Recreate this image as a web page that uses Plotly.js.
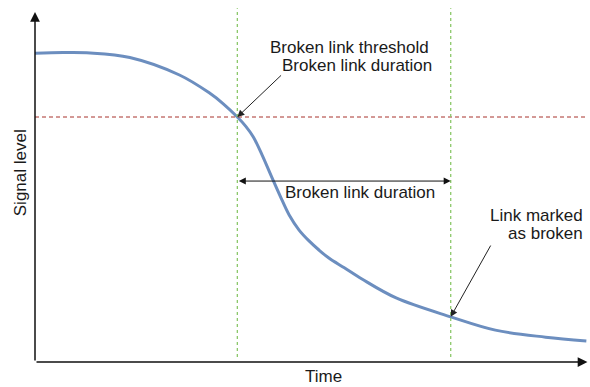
<!DOCTYPE html>
<html>
<head>
<meta charset="utf-8">
<script src="https://cdn.plot.ly/plotly-3.0.1.min.js"></script>
<style>
  html, body { margin: 0; padding: 0; background: #FFFFFF; }
  #chart { width: 590px; height: 387px; }
</style>
</head>
<body>
<div id="chart"></div>
<script>
// Signal level over time, with the broken link threshold and duration

const timePoints = [0, 5.1, 10, 17.2, 26.2, 31.6, 34.2, 36.7, 38.2, 39.6, 41.2, 43.0, 44.7, 46.1, 47.9, 49.7, 51.5, 53.3, 56.1, 59.3, 65.5, 75.4, 83.5, 92.6, 100];
const signalLevels = [88.2, 88.4, 88.3, 87.0, 82.0, 76.9, 73.7, 70.0, 67.4, 64.3, 59.1, 52.6, 46.6, 42.0, 37.7, 34.6, 32.0, 29.7, 26.9, 23.7, 18.3, 12.9, 9.1, 7.1, 6.0];

const threshold = 70;        // broken link threshold (signal level)
const breakStart = 36.7;     // time the signal crosses the threshold
const markedBroken = 75.4;   // time the link is marked as broken
const durationLevel = 51.7;  // height of the duration arrow

const axisEnd = { x: 100.2, y: 100 };

const fontFamily = '"Liberation Sans", Arial, sans-serif';
const textColor = '#1A1A1A';

const signalTrace = {
  x: timePoints,
  y: signalLevels,
  type: 'scatter',
  mode: 'lines',
  line: { color: '#6C8EBF', width: 3, shape: 'spline', smoothing: 1 },
  hoverinfo: 'skip',
  showlegend: false
};

// Text label helper
function label(text, x, y, xanchor, extra) {
  return Object.assign({
    x: x, y: y, xref: 'x', yref: 'y',
    text: text,
    showarrow: false,
    xanchor: xanchor,
    yanchor: 'middle',
    font: { family: fontFamily, size: 17, color: textColor }
  }, extra || {});
}

// Arrow helper (tail -> head in data coords)
function arrow(x0, y0, x1, y1, opts) {
  return Object.assign({
    x: x1, y: y1, ax: x0, ay: y0,
    xref: 'x', yref: 'y', axref: 'x', ayref: 'y',
    text: '',
    showarrow: true,
    arrowhead: 2,
    arrowsize: 1.4,
    arrowwidth: 1,
    arrowcolor: '#222222',
    standoff: 0,
    startstandoff: 0
  }, opts || {});
}

const layout = {
  width: 590,
  height: 387,
  margin: { l: 35, r: 2, t: 5, b: 25 },
  paper_bgcolor: '#FFFFFF',
  plot_bgcolor: '#FFFFFF',
  xaxis: {
    range: [0, 100.3],
    showgrid: false, zeroline: false, showticklabels: false, ticks: '', showline: false
  },
  yaxis: {
    range: [0, 102],
    showgrid: false, zeroline: false, showticklabels: false, ticks: '', showline: false
  },
  shapes: [
    // threshold line
    {
      type: 'line', xref: 'x', yref: 'y',
      x0: 0, x1: 100, y0: threshold, y1: threshold,
      line: { color: '#A8322D', width: 1, dash: '4px,3px' }
    },
    // start of broken period
    {
      type: 'line', xref: 'x', yref: 'y',
      x0: breakStart, x1: breakStart, y0: 1.4, y1: 101.1,
      line: { color: '#8CC86A', width: 1.3, dash: '3px,3px' }
    },
    // link marked as broken
    {
      type: 'line', xref: 'x', yref: 'y',
      x0: markedBroken, x1: markedBroken, y0: 1.4, y1: 101.1,
      line: { color: '#8CC86A', width: 1.3, dash: '3px,3px' }
    }
  ],
  annotations: [
    // axes with arrow tips
    arrow(0, 0, 0, axisEnd.y, { arrowwidth: 1.5, arrowcolor: '#111111', arrowhead: 2, arrowsize: 1.3 }),
    arrow(0, 0, axisEnd.x, 0, { arrowwidth: 1.5, arrowcolor: '#111111', arrowhead: 2, arrowsize: 1.3 }),

    // pointer arrows
    arrow(44.9, 82.3, breakStart, threshold),
    arrow(82.8, 33.7, markedBroken, 12.9),

    // duration arrow
    arrow(breakStart, durationLevel, markedBroken, durationLevel, { arrowside: 'end+start', arrowcolor: '#111111' }),

    // texts
    label('Broken link threshold', 71.9, 90.0, 'right'),
    label('Broken link duration', 72.3, 84.6, 'right'),
    label('Broken link duration', 58.9, 48.3, 'center'),
    label('Link marked', 99.8, 42.0, 'right'),
    label('as broken', 99.8, 36.6, 'right'),
    label('Time', 0.521, -0.069, 'center', { xref: 'paper', yref: 'paper', yanchor: 'bottom', borderpad: 0 }),
    label('Signal level', -0.027, 0.529, 'center', { xref: 'paper', yref: 'paper', textangle: -90 })
  ],
  showlegend: false,
  font: { family: fontFamily, color: textColor }
};

Plotly.newPlot('chart', [signalTrace], layout, { displayModeBar: false, staticPlot: true });
</script>
</body>
</html>
